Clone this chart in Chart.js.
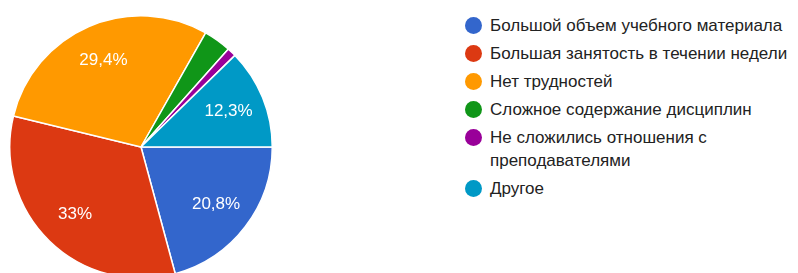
<!DOCTYPE html>
<html><head><meta charset="utf-8">
<script src="https://cdn.jsdelivr.net/npm/chart.js@4/dist/chart.umd.min.js"></script>
<style>
html,body{margin:0;padding:0;background:#fff;overflow:hidden;width:798px;height:273px;}
#pie{position:absolute;left:9px;top:15px;width:264px;height:264px;}
#legend{position:absolute;left:465px;top:14px;width:360px;font-family:"Liberation Sans",Arial,sans-serif;font-size:17px;color:#222;}
.item{position:relative;padding-left:25px;line-height:23px;margin-bottom:5px;width:318px;}
.dot{position:absolute;left:0;top:3px;width:17px;height:17px;border-radius:50%;}
</style></head><body>
<div id="pie"><canvas id="c"></canvas></div>
<div id="legend"></div>
<script>
const categories = ["Большой объем учебного материала","Большая занятость в течении недели","Нет трудностей","Сложное содержание дисциплин","Не сложились отношения с преподавателями","Другое"];
const values = [20.8, 33, 29.4, 3.4, 1.1, 12.3];
const valueLabels = ["20,8%","33%","29,4%","","","12,3%"];
const colors = ["#3366cc","#dc3912","#ff9900","#109618","#990099","#0099c6"];

const leg = document.getElementById('legend');
categories.forEach((c,i)=>{
  const d=document.createElement('div');d.className='item';
  const s=document.createElement('span');s.className='dot';s.style.background=colors[i];
  d.appendChild(s);d.appendChild(document.createTextNode(c));leg.appendChild(d);
});

const labelPlugin = {
  id:'sliceLabels',
  afterDatasetsDraw(chart){
    const ctx=chart.ctx;const meta=chart.getDatasetMeta(0);
    ctx.save();ctx.fillStyle='#fff';ctx.font='17px "Liberation Sans", Arial, sans-serif';
    ctx.textAlign='center';ctx.textBaseline='middle';
    meta.data.forEach((arc,i)=>{
      if(!valueLabels[i])return;
      const p=arc.getProps(['x','y','startAngle','endAngle','outerRadius'],true);
      const a=(p.startAngle+p.endAngle)/2;const r=p.outerRadius*0.72;
      ctx.fillText(valueLabels[i],p.x+Math.cos(a)*r,p.y+Math.sin(a)*r);
    });
    ctx.restore();
  }
};

new Chart(document.getElementById('c'),{
  type:'pie',
  data:{labels:categories,datasets:[{data:values,backgroundColor:colors,borderColor:'#fff',borderWidth:1.5}]},
  options:{responsive:true,maintainAspectRatio:false,animation:false,rotation:90,
    plugins:{legend:{display:false},tooltip:{enabled:false}},layout:{padding:0}},
  plugins:[labelPlugin]
});
</script></body></html>
